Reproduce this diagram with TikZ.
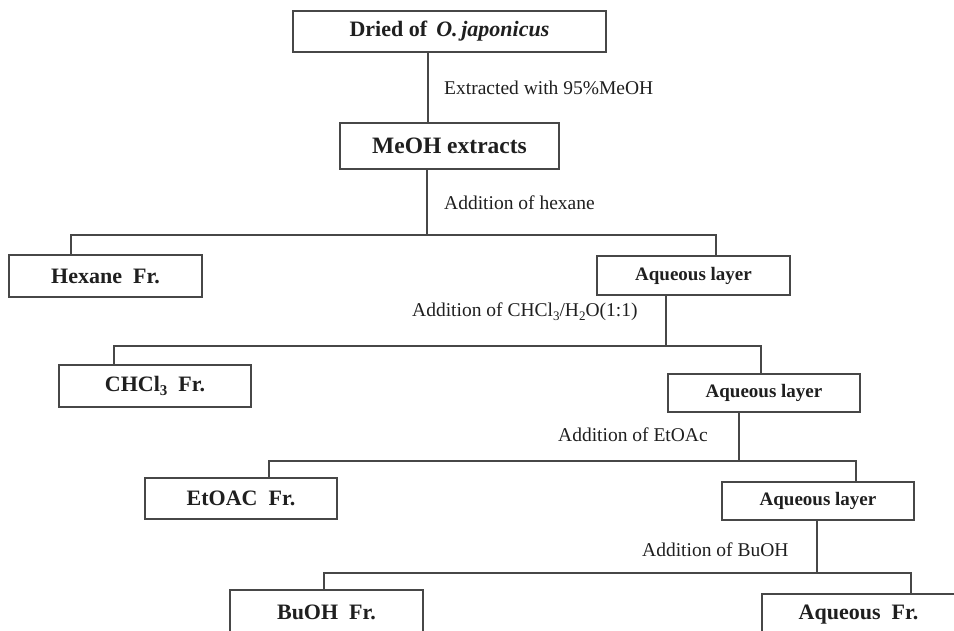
\documentclass[tikz,border=0pt]{standalone}
\usepackage{fontspec}
\setmainfont{Liberation Serif}
\begin{document}
\begin{tikzpicture}[x=1pt,y=-1pt,
  box/.style={draw=black!72,line width=1.2pt,fill=white,inner sep=0pt,text=black!88,font=\bfseries\fontsize{22}{26}\selectfont},
  aqbox/.style={box,font=\bfseries\fontsize{19}{22}\selectfont},
  lbl/.style={anchor=west,inner sep=0pt,text=black!88,font=\fontsize{19.5}{23}\selectfont},
  link/.style={draw=black!72,line width=1.2pt}]
\useasboundingbox (0,0) rectangle (954,631);
\clip (0,0) rectangle (954,631);
% boxes
\node[box,minimum width=313pt,minimum height=41pt] (dried) at (449.5,31.5) {Dried of \,\textit{O.\,japonicus}};
\node[box,minimum width=219pt,minimum height=46pt,font=\bfseries\fontsize{23.5}{27}\selectfont] (meoh) at (449.5,146) {MeOH extracts};
\node[box,minimum width=193pt,minimum height=42pt] (hex) at (105.5,276) {Hexane\ \ Fr.};
\node[aqbox,minimum width=193pt,minimum height=39pt] (aq1) at (693.5,275.5) {Aqueous layer};
\node[box,minimum width=192pt,minimum height=42pt] (chcl) at (155,386) {CHCl\raisebox{-0.45ex}{\fontsize{15}{15}\selectfont 3}\ \ Fr.};
\node[aqbox,minimum width=192pt,minimum height=38pt] (aq2) at (764,393) {Aqueous layer};
\node[box,minimum width=192pt,minimum height=41pt] (etoac) at (241,498.5) {EtOAC\ \ Fr.};
\node[aqbox,minimum width=192pt,minimum height=38pt] (aq3) at (818,501) {Aqueous layer};
\node[box,minimum width=193pt,minimum height=44pt] (buoh) at (326.5,612) {BuOH\ \ Fr.};
\node[box,minimum width=193pt,minimum height=42pt] (aqfr) at (858.5,615) {Aqueous\ \ Fr.};
% labels
\node[lbl] (l1) at (444,88) {Extracted with 95\%MeOH};
\node[lbl] (l2) at (444,203) {Addition of hexane};
\node[lbl] (l3) at (412,312) {Addition of CHCl\raisebox{-0.45ex}{\fontsize{13}{13}\selectfont 3}/H\raisebox{-0.45ex}{\fontsize{13}{13}\selectfont 2}O(1:1)};
\node[lbl] (l4) at (558,435) {Addition of EtOAc};
\node[lbl] (l5) at (642,550) {Addition of BuOH};
% split coordinates
\coordinate (v0) at (428,0);
\coordinate (s1) at (427,235);
\coordinate (s1l) at (71,235);
\coordinate (s1r) at (716,235);
\coordinate (s2) at (666,346);
\coordinate (s2l) at (114,346);
\coordinate (s2r) at (761,346);
\coordinate (s3) at (739,461);
\coordinate (s3l) at (269,461);
\coordinate (s3r) at (856,461);
\coordinate (s4) at (817,573);
\coordinate (s4l) at (324,573);
\coordinate (s4r) at (911,573);
% connectors
\draw[link] (v0 |- dried.south) -- (v0 |- meoh.north);
\draw[link] (s1 |- meoh.south) -- (s1);
\draw[link] (s1l |- hex.north) -- (s1l) -- (s1r) -- (s1r |- aq1.north);
\draw[link] (s2 |- aq1.south) -- (s2);
\draw[link] (s2l |- chcl.north) -- (s2l) -- (s2r) -- (s2r |- aq2.north);
\draw[link] (s3 |- aq2.south) -- (s3);
\draw[link] (s3l |- etoac.north) -- (s3l) -- (s3r) -- (s3r |- aq3.north);
\draw[link] (s4 |- aq3.south) -- (s4);
\draw[link] (s4l |- buoh.north) -- (s4l) -- (s4r) -- (s4r |- aqfr.north);
\end{tikzpicture}
\end{document}
